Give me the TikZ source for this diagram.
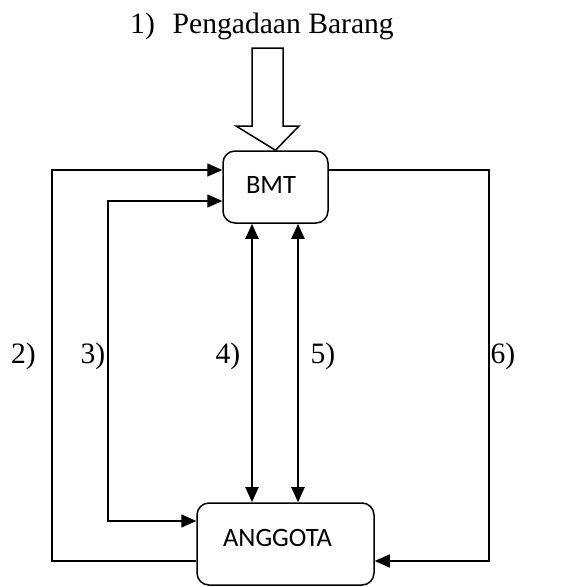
\documentclass[tikz,border=0pt]{standalone}
\usepackage{fontspec}
\setmainfont{Liberation Serif}
\newfontfamily\calib{Carlito}
\usetikzlibrary{arrows.meta}
\begin{document}
\begin{tikzpicture}[x=1pt,y=-1pt,
  box/.style={draw,line width=1.5pt,rounded corners=12pt,inner sep=0pt},
  conn/.style={line width=1.4pt},
  arr/.style={conn,-{Triangle[length=15pt,width=13pt]}},
  arrtwo/.style={conn,{Triangle[length=15pt,width=13pt]}-{Triangle[length=15pt,width=13pt]}},
  dbl/.style={line width=2pt,{Triangle[length=15pt,width=13pt]}-{Triangle[length=15pt,width=13pt]}},
  lbl/.style={font=\fontsize{29.6}{34}\selectfont,anchor=base,inner sep=0pt},
  sans/.style={font=\calib\fontsize{26.5}{30}\selectfont,anchor=base,inner sep=0pt}]
\useasboundingbox (0,0) rectangle (562,587);
% boxes
\node[box,minimum width=105pt,minimum height=72pt] (bmt) at (275.5,187) {};
\node[sans] (bmttxt) at (271,193) {BMT};
\node[box,minimum width=177pt,minimum height=82pt] (ang) at (285.5,544) {};
\node[sans] (angtxt) at (277.5,546) {ANGGOTA};
% title and hollow arrow
\node[lbl] (title) at (262,33) {1)\hspace{0.6em}Pengadaan Barang};
\draw[line width=1.5pt,fill=white] (252,48) -- (283,48) -- (283,126) -- (299,126) -- (bmt.north) -- (236,126) -- (252,126) -- cycle;
% coordinates
\coordinate (c2a) at (52,561);
\coordinate (c2b) at (52,170);
\coordinate (c3a) at (108,521);
\coordinate (c3b) at (108,201);
\coordinate (c6a) at (489,170);
\coordinate (c6b) at (489,561);
% connector 2
\draw[arr] (ang.west |- c2a) -- (c2a) -- (c2b) -- (bmt.west |- c2b);
% connector 3
\draw[arrtwo] (bmt.west |- c3b) -- (c3b) -- (c3a) -- (ang.west |- c3a);
% connectors 4 and 5
\draw[dbl] (252,223.8) coordinate (t4) -- (252,502.2) coordinate (b4);
\draw[dbl] (298,223.8) coordinate (t5) -- (298,502.2) coordinate (b5);
% connector 6
\draw[arr] (bmt.east |- c6a) -- (c6a) -- (c6b) -- (ang.east |- c6b);
% labels
\node[lbl] (l2) at (23.5,363) {2)};
\node[lbl] (l3) at (93,363) {3)};
\node[lbl] (l4) at (228,363) {4)};
\node[lbl] (l5) at (323,363) {5)};
\node[lbl] (l6) at (503,363) {6)};
\end{tikzpicture}
\end{document}
